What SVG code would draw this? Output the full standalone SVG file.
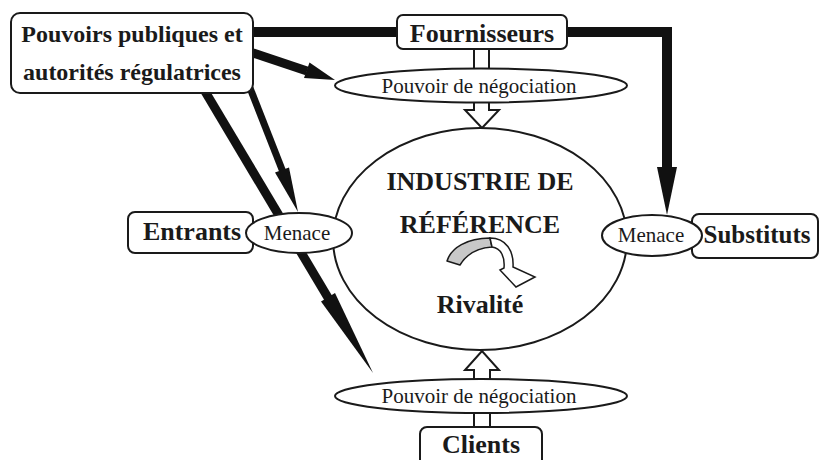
<svg xmlns="http://www.w3.org/2000/svg" width="819" height="460" viewBox="0 0 819 460">
<style>
.box{fill:#fff;stroke:#1a1a1a;stroke-width:2}
.ell{fill:#fff;stroke:#1a1a1a;stroke-width:2}
.b{font-family:"Liberation Serif","Times New Roman",serif;font-weight:bold;fill:#1a1a1a;text-anchor:middle}
.r{font-family:"Liberation Serif","Times New Roman",serif;fill:#1a1a1a;text-anchor:middle;font-size:21px}
.thick{stroke:#111;fill:none}
.head{fill:#111;stroke:none}
.hollow{fill:#fff;stroke:#1a1a1a;stroke-width:2;stroke-linejoin:miter}
</style>
<rect width="819" height="460" fill="#fff"/>
<g id="connectors">
  <polyline class="thick" points="250,32 667,32 667,170" stroke-width="10"/>
  <polygon class="head" points="657,167 677,167 667,215"/>
  <line class="thick" x1="250" y1="52" x2="307" y2="71" stroke-width="9"/>
  <polygon class="head" points="309.5,62.5 304,78 335,80"/>
  <line class="thick" x1="250" y1="88" x2="283" y2="172" stroke-width="7"/>
  <polygon class="head" points="289,167.5 275,172.5 298,212"/>
  <line class="thick" x1="203" y1="88" x2="330" y2="301" stroke-width="9"/>
  <polygon class="head" points="335,293 321,301.5 373,373"/>
  <path class="hollow" d="M474,48 V68 M489,48 V68"/>
  <path class="hollow" d="M474,102 V110 H465 L482,128 L499,110 H489 V102"/>
  <path class="hollow" d="M474,427 V413 M490,427 V413"/>
  <path class="hollow" d="M474,379 V370 H465 L482,351 L499,370 H490 V379"/>
  <rect x="475" y="48" width="13" height="20" fill="#fff"/>
  <rect x="475" y="413" width="14" height="14" fill="#fff"/>
</g>
<g id="industrie">
  <ellipse class="ell" cx="480" cy="239" rx="147" ry="111"/>
  <text class="b" x="480" y="190" font-size="26">INDUSTRIE DE</text>
  <text class="b" x="480" y="233" font-size="26">RÉFÉRENCE</text>
  <path d="M447,261 C451,248 467,238 490,238 L492,247 C477,248 466,255 460,265 Z" fill="#c8c8c8" stroke="#1a1a1a" stroke-width="1.5" stroke-linejoin="round"/>
  <path d="M490,238 C506,238 514,251 513,267 L535,277 L516,287 L500,270 L504,268 C505,257 501,248 492,247 Z" fill="#fff" stroke="#1a1a1a" stroke-width="1.5" stroke-linejoin="miter"/>
  <text class="b" x="480" y="313" font-size="26">Rivalité</text>
</g>
<g id="pouvoirs">
  <rect class="box" x="11" y="13" width="242" height="80" rx="9"/>
  <text class="b" x="132" y="42" font-size="24">Pouvoirs publiques et</text>
  <text class="b" x="132" y="80" font-size="24">autorités régulatrices</text>
</g>
<g id="fournisseurs">
  <rect class="box" x="397" y="15" width="170" height="34" rx="6"/>
  <text class="b" x="482" y="42" font-size="26">Fournisseurs</text>
</g>
<g id="negociation-haut">
  <ellipse class="ell" cx="481" cy="85.5" rx="146" ry="17"/>
  <text class="r" x="479" y="93">Pouvoir de négociation</text>
</g>
<g id="entrants">
  <rect class="box" x="128" y="212" width="125" height="41" rx="7"/>
  <text class="b" x="192" y="240" font-size="26">Entrants</text>
</g>
<g id="menace-gauche">
  <ellipse class="ell" cx="299" cy="233" rx="53" ry="20"/>
  <text class="r" x="297" y="240">Menace</text>
</g>
<g id="substituts">
  <rect class="box" x="692" y="214" width="126" height="44" rx="7"/>
  <text class="b" x="757" y="243" font-size="25">Substituts</text>
</g>
<g id="menace-droite">
  <ellipse class="ell" cx="652" cy="235.5" rx="50" ry="20.5"/>
  <text class="r" x="651" y="242">Menace</text>
</g>
<g id="negociation-bas">
  <ellipse class="ell" cx="481" cy="396" rx="146" ry="17"/>
  <text class="r" x="479" y="403">Pouvoir de négociation</text>
</g>
<g id="clients">
  <rect class="box" x="420" y="427" width="122" height="45" rx="7"/>
  <text class="b" x="481" y="453" font-size="26">Clients</text>
</g>
</svg>
